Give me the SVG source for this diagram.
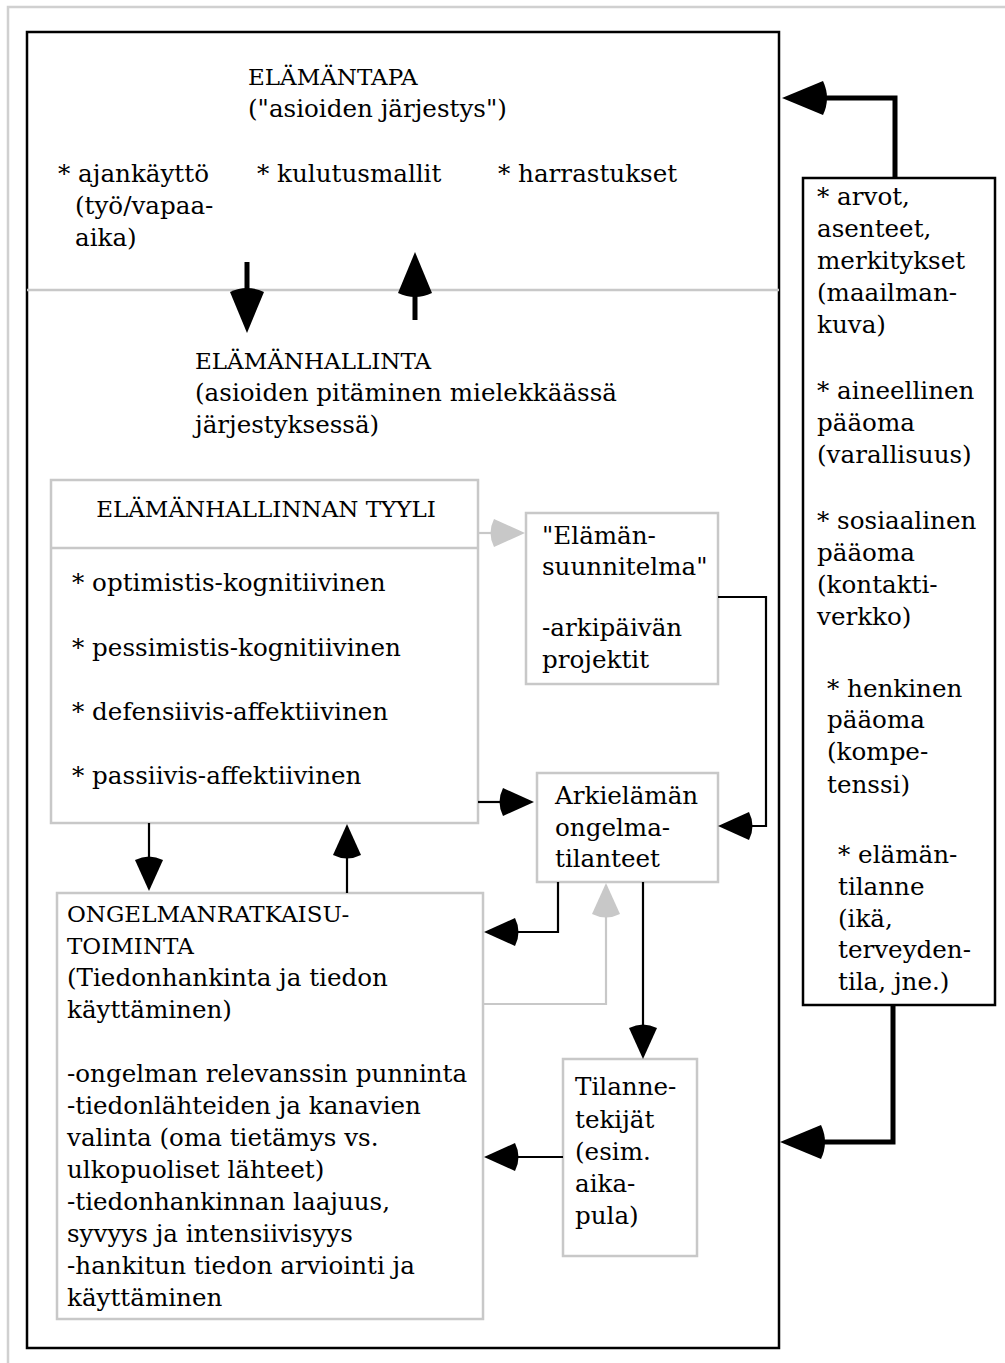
<svg xmlns="http://www.w3.org/2000/svg" width="1005" height="1363" viewBox="0 0 1005 1363">
<style>
text{font-family:"DejaVu Serif","Liberation Serif",serif;font-size:24.6px;fill:#000}
text.c{font-size:23px}
.box{fill:#fff;stroke:#c8c8c8;stroke-width:2.5}
.bbox{fill:#fff;stroke:#000;stroke-width:2.5}
.thick{fill:none;stroke:#000;stroke-width:5}
.thin{fill:none;stroke:#000;stroke-width:2.2}
.gray{fill:none;stroke:#c8c8c8;stroke-width:2.2}
</style>
<defs>
<marker id="ahT" markerUnits="userSpaceOnUse" orient="auto" refX="0" refY="0" markerWidth="60" markerHeight="60" overflow="visible"><path d="M41,0 L0,-17 Q-8,0 0,17 Z" fill="#000"/></marker>
<marker id="ah" markerUnits="userSpaceOnUse" orient="auto" refX="0" refY="0" markerWidth="50" markerHeight="50" overflow="visible"><path d="M31,0 L0,-14 Q-7,0 0,14 Z" fill="#000"/></marker>
<marker id="ahG" markerUnits="userSpaceOnUse" orient="auto" refX="0" refY="0" markerWidth="50" markerHeight="50" overflow="visible"><path d="M31,0 L0,-14 Q-7,0 0,14 Z" fill="#c8c8c8"/></marker>
</defs>
<rect width="1005" height="1363" fill="#fff"/>
<path d="M1005,7 H8 V1363" fill="none" stroke="#d0d0d0" stroke-width="2.5"/>
<g id="elamantapa">
<rect class="bbox" x="27" y="32" width="752" height="1316"/>
<line x1="27" y1="290" x2="779" y2="290" stroke="#c8c8c8" stroke-width="2.5"/>
<text class="c" x="248" y="85">ELÄMÄNTAPA</text>
<text x="248" y="117">("asioiden järjestys")</text>
<text x="58" y="182">* ajankäyttö</text>
<text x="75" y="214">(työ/vapaa-</text>
<text x="75" y="246">aika)</text>
<text x="257" y="182">* kulutusmallit</text>
<text x="498" y="182">* harrastukset</text>
</g>
<g id="elamanhallinta">
<text class="c" x="195" y="369">ELÄMÄNHALLINTA</text>
<text x="195" y="401">(asioiden pitäminen mielekkäässä</text>
<text x="195" y="433">järjestyksessä)</text>
</g>
<g id="tyyli">
<rect class="box" x="51" y="480" width="427" height="343"/>
<line x1="51" y1="548" x2="478" y2="548" stroke="#c8c8c8" stroke-width="2.5"/>
<text class="c" x="266" y="517" text-anchor="middle">ELÄMÄNHALLINNAN TYYLI</text>
<text x="72" y="591">* optimistis-kognitiivinen</text>
<text x="72" y="656">* pessimistis-kognitiivinen</text>
<text x="72" y="720">* defensiivis-affektiivinen</text>
<text x="72" y="784">* passiivis-affektiivinen</text>
</g>
<g id="suunnitelma">
<rect class="box" x="526" y="513" width="192" height="171"/>
<text x="542" y="544">"Elämän-</text>
<text x="542" y="575">suunnitelma"</text>
<text x="542" y="636">-arkipäivän</text>
<text x="542" y="668">projektit</text>
</g>
<g id="arkielama">
<rect class="box" x="537" y="773" width="181" height="109"/>
<text x="555" y="804">Arkielämän</text>
<text x="555" y="836">ongelma-</text>
<text x="555" y="867">tilanteet</text>
</g>
<g id="ongelmanratkaisu">
<rect class="box" x="57" y="893" width="426" height="426"/>
<text class="c" x="67" y="922">ONGELMANRATKAISU-</text>
<text class="c" x="67" y="954">TOIMINTA</text>
<text x="67" y="986">(Tiedonhankinta ja tiedon</text>
<text x="67" y="1018">käyttäminen)</text>
<text x="67" y="1082">-ongelman relevanssin punninta</text>
<text x="67" y="1114">-tiedonlähteiden ja kanavien</text>
<text x="67" y="1146">valinta (oma tietämys vs.</text>
<text x="67" y="1178">ulkopuoliset lähteet)</text>
<text x="67" y="1210">-tiedonhankinnan laajuus,</text>
<text x="67" y="1242">syvyys ja intensiivisyys</text>
<text x="67" y="1274">-hankitun tiedon arviointi ja</text>
<text x="67" y="1306">käyttäminen</text>
</g>
<g id="tilannetekijat">
<rect class="box" x="563" y="1059" width="134" height="197"/>
<text x="575" y="1095">Tilanne-</text>
<text x="575" y="1128">tekijät</text>
<text x="575" y="1160">(esim.</text>
<text x="575" y="1192">aika-</text>
<text x="575" y="1224">pula)</text>
</g>
<g id="resurssit">
<rect class="bbox" x="803" y="178" width="192" height="827"/>
<text x="817" y="205">* arvot,</text>
<text x="817" y="237">asenteet,</text>
<text x="817" y="269">merkitykset</text>
<text x="817" y="301">(maailman-</text>
<text x="817" y="333">kuva)</text>
<text x="817" y="399">* aineellinen</text>
<text x="817" y="431">pääoma</text>
<text x="817" y="463">(varallisuus)</text>
<text x="817" y="529">* sosiaalinen</text>
<text x="817" y="561">pääoma</text>
<text x="817" y="593">(kontakti-</text>
<text x="817" y="625">verkko)</text>
<text x="827" y="697">* henkinen</text>
<text x="827" y="728">pääoma</text>
<text x="827" y="760">(kompe-</text>
<text x="827" y="793">tenssi)</text>
<text x="838" y="863">* elämän-</text>
<text x="838" y="895">tilanne</text>
<text x="838" y="927">(ikä,</text>
<text x="838" y="958">terveyden-</text>
<text x="838" y="990">tila, jne.)</text>
</g>
<g id="connectors">
<path class="thick" d="M247,262 V292" marker-end="url(#ahT)"/>
<path class="thick" d="M415,320 V293" marker-end="url(#ahT)"/>
<path class="thick" d="M895,178 V98 H823" marker-end="url(#ahT)"/>
<path class="thick" d="M893,1005 V1142 H821" marker-end="url(#ahT)"/>
<path class="gray" d="M478,533 H494" marker-end="url(#ahG)"/>
<path class="thin" d="M718,597 H766 V826 H749" marker-end="url(#ah)"/>
<path class="thin" d="M478,802 H503" marker-end="url(#ah)"/>
<path class="thin" d="M558,882 V932 H515" marker-end="url(#ah)"/>
<path class="gray" d="M484,1004 H606 V914" marker-end="url(#ahG)"/>
<path class="thin" d="M643,882 V1028" marker-end="url(#ah)"/>
<path class="thin" d="M563,1157 H515" marker-end="url(#ah)"/>
<path class="thin" d="M149,823 V860" marker-end="url(#ah)"/>
<path class="thin" d="M347,893 V855" marker-end="url(#ah)"/>
</g>
</svg>
